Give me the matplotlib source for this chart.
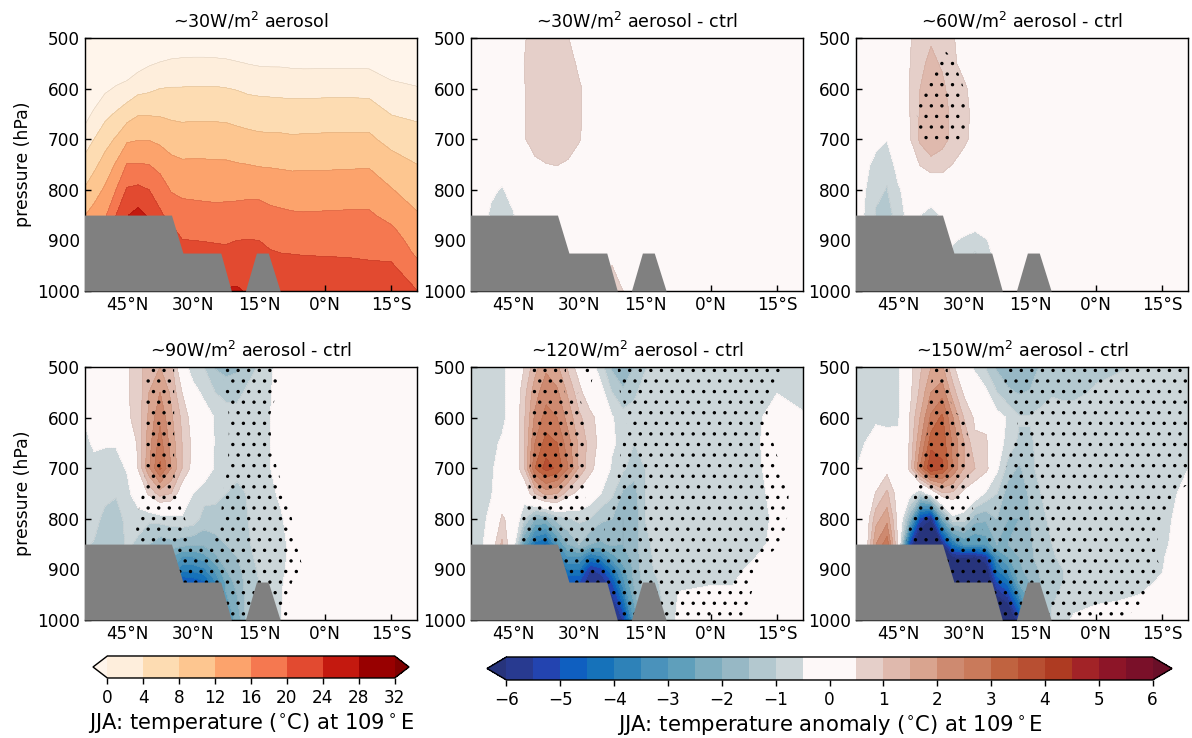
import numpy as np
import matplotlib
matplotlib.use('Agg')
from matplotlib import pyplot as plt

plt.rcParams['hatch.linewidth'] = 0.7
plt.rcParams['hatch.color'] = 'black'

DPI = 127
W, H = 1192.01, 738.01

# columns of the grid, one row in each table below per latitude
lats = [55, 52.5, 50, 47.5, 45, 42.5, 40, 37.5, 35, 32.5, 30, 27.5, 25, 22.5, 20, 17.5, 15,
        12.5, 10, 7.5, 5, 0, -5, -10, -15, -21]
plevs = [500, 550, 600, 650, 700, 750, 800, 850, 875, 900, 925, 1000]

terrain_lat = [55, 34.9, 32.3, 23.7, 21.3, 18.1, 15.6, 12.9, 10.2, -21]
terrain_p = [850, 850, 925, 925, 1000, 1000, 925, 925, 1000, 1000]

xtick_pos = [45, 30, 15, 0, -15]
xtick_lab = ['45°N', '30°N', '15°N', '0°N', '15°S']
ytick_pos = [500, 600, 700, 800, 900, 1000]

temp_levels = [0, 4, 8, 12, 16, 20, 24, 28, 32]
temp_colors = ['#fff5eb', '#feeedc', '#fddcb2', '#fdc690', '#fca36c', '#f57850', '#e24a30',
               '#c4190f', '#980000', '#7f0000']
anom_levels = [-6, -5.5, -5, -4.5, -4, -3.5, -3, -2.5, -2, -1.5, -1, -0.5,
               0.5, 1, 1.5, 2, 2.5, 3, 3.5, 4, 4.5, 5, 5.5, 6]
anom_colors = ['#27347c', '#283a90', '#2344b0', '#0f5fc0', '#1672ba', '#2e82b8', '#4a92bb',
               '#5f9fbb', '#7eadbf', '#97b8c5', '#b3c8cf', '#ccd6d9', '#fdf8f8', '#e5cfc9',
               '#dfb9ad', '#d9a48f', '#ce8a70', '#c97a5b', '#c06340', '#b84f32', '#ae3b22',
               '#a22327', '#8d1528', '#7a1029', '#6a0f28']

temp_30 = [
    [-12, -9, -6, -2, 1.5, 5, 8, 11.6, 13.6, 15.6, 18, 24],
    [-9, -6, -3, 0.7, 4, 7.1, 10.2, 13.5, 15.3, 17.3, 19.6, 26],
    [-7.3, -4.4, -0.7, 2.9, 6.5, 9.5, 12.6, 15.4, 17, 19, 21, 27],
    [-6.4, -3, 0.4, 4.4, 8.4, 12.4, 16, 20, 21.5, 23, 24.5, 29],
    [-5.7, -2.8, 1.3, 6.2, 11.3, 16.2, 20.4, 23.75, 25, 26, 27, 29],
    [-4.8, -1.5, 2.8, 7.7, 11.8, 16.2, 20.9, 25.3, 25.5, 26, 27, 29],
    [-4, -0.4, 3.3, 7.7, 11.8, 16, 20, 23.4, 25, 26, 27, 29],
    [-3.6, 0.2, 4, 7.6, 11.2, 14.5, 18.5, 20.5, 21.5, 24, 25, 27],
    [-3.4, 0.7, 4.2, 7.3, 10.1, 13.2, 15.7, 18.8, 20.4, 22, 23, 26],
    [-3.2, 0.9, 4.2, 7.1, 9.8, 12.6, 15.1, 17.7, 18.9, 20.1, 21, 24],
    [-3.1, 1, 4.3, 7.2, 9.9, 12.6, 15, 17.5, 18.8, 20, 21.3, 24],
    [-3.1, 1, 4.3, 7.2, 9.9, 12.6, 14.9, 17.3, 18.5, 19.9, 21, 24],
    [-3.2, 0.9, 4.3, 7.2, 9.8, 12.5, 14.8, 17.2, 18.4, 19.7, 21, 24],
    [-3.3, 0.7, 4.1, 7.1, 9.7, 12.5, 14.9, 17.2, 18.5, 19.6, 20.8, 24.3],
    [-3.6, 0.3, 3.8, 6.7, 9.4, 12.2, 14.9, 17.4, 18.6, 20, 21.2, 24.4],
    [-3.8, -0.1, 3.3, 6.3, 9.1, 12, 15, 17.6, 18.9, 20.1, 21.1, 23.6],
    [-4, -0.4, 3.1, 6.1, 8.8, 11.7, 15, 17.5, 18.8, 20, 21, 23.5],
    [-4, -0.5, 3, 6, 8.7, 11.6, 14.6, 16.9, 18, 19.2, 20.3, 23.4],
    [-4.1, -0.5, 2.9, 5.9, 8.7, 11.5, 14.1, 16.7, 17.8, 18.9, 20, 23.3],
    [-4.2, -0.7, 2.8, 5.8, 8.5, 11.3, 14, 16.4, 17.5, 18.6, 19.9, 23.2],
    [-4.2, -0.8, 2.8, 5.8, 8.6, 11.4, 13.9, 16.3, 17.4, 18.6, 19.8, 23.1],
    [-4.3, -0.8, 2.9, 5.9, 8.7, 11.4, 14, 16.4, 17.4, 18.5, 19.7, 23],
    [-4.1, -0.7, 2.9, 6, 8.7, 11.5, 14.1, 16.5, 17.5, 18.5, 19.6, 23],
    [-4.2, -0.8, 2.8, 5.9, 8.8, 11.6, 14.2, 16.5, 17.4, 18.3, 19.3, 23],
    [-5, -2, 1, 3.9, 6.5, 10, 12.2, 14.8, 16.4, 17.6, 18.8, 24],
    [-6.3, -3.2, 0.3, 3.2, 5.7, 8, 10.2, 12.3, 13.4, 14.4, 15.3, 20],
]

anom_30 = [
    [0] * 12,
    [0, 0, 0, 0, 0, 0, 0, -.2, 0, 0, 0, 0],
    [0, 0, 0, 0, 0, 0, -.4, -.6, -.2, 0, 0, 0],
    [0, 0, 0, 0, 0, -.2, -.55, -.8, -.3, 0, 0, 0],
    [0, 0, 0, 0, 0, 0, -.3, -.55, -.2, 0, 0, 0],
    [.4, .5, .45, .45, .42, .1, 0, -.2, 0, 0, 0, 0],
    [.9, .9, .9, .9, .9, .3, 0, 0, 0, 0, 0, 0],
    [1, 1, 1, 1, .9, .48, .1, 0, 0, 0, 0, 0],
    [.9, 1, 1, 1, .9, .52, .1, 0, 0, 0, 0, 0],
    [.52, .8, .9, .9, .9, .4, 0, 0, 0, 0, 0, 0],
    [.2, .35, .6, .6, .55, .2, 0, 0, 0, 0, 0, 0],
    [0, 0, .2, .2, .2, 0, 0, 0, 0, 0, 0, 0],
    [0] * 12,
    [0, 0, 0, 0, 0, 0, 0, 0, 0, 0, .3, .9],
    [0, 0, 0, 0, 0, 0, 0, 0, 0, 0, .1, .5],
    [0] * 12, [0] * 12, [0] * 12, [0] * 12, [0] * 12, [0] * 12,
    [0] * 12, [0] * 12, [0] * 12, [0] * 12, [0] * 12,
]

anom_60 = [
    [0, 0, 0, 0, 0, 0, -.05, -.1, 0, 0, 0, 0],
    [0, 0, 0, 0, 0, -.3, -.48, -.55, -.3, 0, 0, 0],
    [0, 0, 0, 0, -.25, -.75, -.9, -1.05, -.6, -.2, 0, 0],
    [0, 0, 0, 0, -.47, -.9, -1.02, -1.2, -.7, -.2, 0, 0],
    [0, 0, 0, 0, -.1, -.25, -.6, -.8, -.4, -.1, 0, 0],
    [.4, .45, .5, .45, .4, .05, -.2, -.3, 0, 0, 0, 0],
    [.85, .9, 1, 1.05, 1.1, .52, .1, -.5, -.2, -.1, 0, 0],
    [.95, 1.1, 1.3, 1.5, 1.3, .85, -.2, -.65, -.3, -.1, 0, 0],
    [.85, .95, 1.1, 1.3, 1.2, .7, .1, -.45, -.3, -.3, -.2, 0],
    [.55, .6, .8, .82, .85, .48, .05, -.1, -.2, -.45, -.6, -.2],
    [.2, .3, .6, .7, .62, .25, 0, -.1, -.3, -.6, -.7, -.2],
    [0, .1, .25, .3, .3, .05, 0, -.05, -.4, -.75, -1.05, -.3],
    [0, 0, 0, 0, 0, 0, 0, 0, -.2, -.55, -.7, -.2],
    [0, 0, 0, 0, 0, 0, 0, 0, -.1, -.2, -.3, 0],
    [0] * 12, [0] * 12, [0] * 12, [0] * 12, [0] * 12, [0] * 12, [0] * 12,
    [0] * 12, [0] * 12, [0] * 12, [0] * 12, [0] * 12,
]

sig_60 = [
    [0] * 12, [0] * 12, [0] * 12, [0] * 12, [0] * 12, [0] * 12,
    [0, 0, .5, .7, .6, 0, 0, 0, 0, 0, 0, 0],
    [0, .2, .7, 1, .6, 0, 0, 0, 0, 0, 0, 0],
    [.2, 1, 1, 1, .6, 0, 0, 0, 0, 0, 0, 0],
    [0, .6, .7, 1, .6, 0, 0, 0, 0, 0, 0, 0],
    [0, 0, .5, .6, .6, 0, 0, 0, 0, 0, 0, 0],
    [0] * 12, [0] * 12, [0] * 12, [0] * 12, [0] * 12, [0] * 12, [0] * 12, [0] * 12,
    [0] * 12, [0] * 12, [0] * 12, [0] * 12, [0] * 12, [0] * 12, [0] * 12,
]

anom_90 = [
    [-.3, -.4, -.5, -.7, -.75, -.8, -.9, -.9, -.9, -.9, -.9, -.9],
    [-.05, -.1, -.2, -.4, -.7, -.7, -.75, -1.05, -1.1, -1.1, -1.1, -1.1],
    [0, 0, -.1, -.45, -.7, -.8, -1.2, -1.3, -1.3, -1.3, -1.3, -1.3],
    [0, 0, -.1, -.45, -.7, -.95, -1.25, -1.4, -1.4, -1.4, -1.4, -1.4],
    [.45, .45, .4, -.2, -.45, -.7, -.85, -.9, -1, -1, -1, -1],
    [.7, .7, .7, .6, .52, -.1, -.8, -1.1, -1.3, -1.3, -1.3, -1.3],
    [1.4, 1.5, 1.6, 1.8, 1.9, .6, -.9, -1.5, -2, -2, -2, -2],
    [1.5, 2, 2.4, 2.7, 3.1, 1.2, -.8, -1.8, -2.2, -2.5, -2.5, -2.5],
    [1.2, 1.4, 1.6, 1.8, 2, 1, -.7, -1.7, -2.5, -3, -3, -3],
    [-.1, .5, .9, 1, 1, .1, -.6, -1.8, -3, -3.8, -5, -5],
    [-.9, -.2, .2, .35, .3, -.5, -.7, -1.9, -3, -3.8, -4.9, -5],
    [-1, -.7, -.05, 0, -.1, -.8, -1.2, -1.9, -2.7, -3.6, -4.6, -5],
    [-1.55, -1, -.55, -.55, -.55, -.85, -1.2, -1.7, -2.1, -2.9, -3.6, -5],
    [-1.7, -1.2, -.7, -.7, -.75, -1, -1.2, -1.5, -1.7, -2, -2.4, -2.8],
    [-1.6, -1.15, -.8, -.8, -.8, -1.2, -1.3, -1.4, -1.5, -1.7, -1.8, -2.4],
    [-1.2, -.9, -.75, -.75, -.75, -.95, -1, -1.05, -1.1, -1.2, -1.3, -1.2],
    [-.95, -.75, -.7, -.7, -.7, -.7, -.8, -.85, -.9, -.95, -1, -1],
    [-.6, -.55, -.52, -.5, -.52, -.6, -.7, -.75, -.75, -.75, -.7, -.6],
    [-.25, -.2, -.1, -.1, -.2, -.42, -.55, -.6, -.6, -.6, -.55, -.5],
    [0, 0, 0, 0, 0, -.1, -.3, -.4, -.4, -.35, -.3, -.1],
    [0] * 12, [0] * 12, [0] * 12, [0] * 12, [0] * 12, [0] * 12,
]

sig_90 = [
    [0] * 12, [0] * 12, [0] * 12, [0] * 12, [0] * 12,
    [0, 0, 0, 0, 0, .2, .6, .6, 0, 0, 0, 0],
    [.7, .7, .7, .7, .7, 1, 1, 1, .5, .5, .5, .5],
    [1] * 12,
    [.7, .7, .7, .7, .7, .8, 1, 1, 1, 1, 1, 1],
    [0, 0, 0, 0, 0, .1, .7, .7, 1, 1, 1, 1],
    [0, 0, 0, 0, 0, 0, 0, .5, 1, 1, 1, 1],
    [0, 0, 0, 0, 0, 0, 0, .4, 1, 1, 1, 1],
    [0, 0, 0, 0, 0, 0, 0, .8, 1, 1, 1, 1],
    [.7, .55, .3, .35, .4, .7, 1, 1, 1, 1, 1, .3],
    [1] * 12, [1] * 12, [1] * 12,
    [1, 1, .45, .6, 1, 1, 1, 1, 1, 1, 1, 1],
    [.3, .2, 0, 0, .2, .8, 1, 1, 1, 1, 1, 1],
    [0, 0, 0, 0, 0, 0, .5, .8, 1, .9, .5, 0],
    [0, 0, 0, 0, 0, 0, 0, 0, .3, .5, .4, 0],
    [0] * 12, [0] * 12, [0] * 12, [0] * 12, [0] * 12,
]

anom_120 = [
    [-1.1, -.8, -.7, -1.1, -1.1, -1.1, -.6, -.5, -.5, -.5, -.5, -.5],
    [-.7, -.7, -.7, -.7, -.7, -.7, -.7, -.75, -.75, -.75, -.75, -.75],
    [-.7, -.7, -.7, -.7, -.6, -.55, -.35, .1, .1, .1, .1, .1],
    [-.7, -.7, -.7, -.4, -.2, 0, .6, 1.1, 1.1, 1.1, 1.1, 1.1],
    [-.1, -.1, -.1, 0, 0, -.1, .2, -.1, -.5, -.5, -.5, -.5],
    [.5, .8, .9, .9, .9, -.1, -1, -2.6, -3, -3, -3, -3],
    [1.3, 1.8, 2.1, 2.5, 3, 1, -2, -4.2, -5, -5, -5, -5],
    [1.9, 2.3, 2.7, 3.2, 3.7, 1.7, -2, -4.6, -5, -5, -5, -5],
    [1.6, 2.1, 2.5, 3, 3.4, 1.5, -1.3, -3.1, -4, -4, -4, -4],
    [.9, 1.4, 1.8, 2.2, 2.5, .7, -1.05, -2, -3, -4, -5, -5],
    [.2, .7, 1.1, 1.4, 1.4, .3, -.9, -1.5, -3, -4, -5, -5],
    [-.2, 0, .7, .8, .7, -.1, -1, -2, -4, -5.5, -6, -6],
    [-.8, -.3, .2, .3, .1, -.5, -1.4, -2.1, -3.6, -5.2, -6, -6.2],
    [-1.6, -1, -.45, -.4, -.6, -.9, -1.5, -1.9, -2.7, -4, -5, -6.5],
    [-2, -1.4, -.8, -.7, -.9, -1.6, -2, -2, -2.2, -2.7, -3.2, -5.5],
    [-1.5, -1.1, -.8, -1, -1.3, -1.7, -1.9, -1.8, -1.85, -1.9, -1.9, -3],
    [-1.05, -.8, -.7, -.8, -1, -1, -1, -1.05, -1.1, -1.15, -1.3, -1.5],
    [-.8, -.7, -.7, -.7, -.75, -.85, -.9, -.95, -.95, -.95, -1.05, -1.2],
    [-.75, -.7, -.7, -.7, -.7, -.7, -.7, -.75, -.75, -.8, -.85, -.95],
    [-.7, -.7, -.7, -.7, -.7, -.7, -.7, -.7, -.65, -.6, -.55, -.35],
    [-.7, -.7, -.7, -.7, -.7, -.7, -.7, -.7, -.65, -.6, -.55, -.3],
    [-.75, -.75, -.7, -.7, -.7, -.7, -.7, -.7, -.65, -.6, -.52, -.3],
    [-.7, -.7, -.7, -.7, -.7, -.7, -.7, -.7, -.65, -.6, -.52, -.3],
    [-.7, -.7, -.6, -.6, -.65, -.7, -.7, -.6, -.52, -.4, -.3, -.2],
    [-.65, -.51, -.3, -.2, -.2, -.3, -.4, -.4, -.2, -.1, -.1, 0],
    [-.7, -.65, -.45, -.2, -.1, -.1, -.1, -.1, 0, 0, 0, 0],
]

sig_120 = [
    [0] * 12, [0] * 12, [0] * 12, [0] * 12, [0] * 12,
    [0, 0, 0, 0, 0, .2, .6, .7, 0, 0, 0, 0],
    [.7, .7, .7, .7, 1, 1, 1, 1, 1, 1, 1, 1],
    [1] * 12, [1] * 12,
    [.4, .3, 1, 1, 1, 1, 1, 1, 1, 1, 1, 1],
    [.5, .5, 1, 1, 1, 1, 1, 1, 1, 1, 1, 1],
    [1, .4, 0, 0, 0, 0, .5, 1, 1, 1, 1, 1],
    [0, 0, 0, 0, 0, 0, 0, .6, 1, 1, 1, 1],
    [0, 0, 0, 0, 0, 0, .8, 1, 1, 1, 1, 1],
    [1, .7, .1, .5, 1, 1, 1, 1, 1, 1, 1, 1],
    [1] * 12, [1] * 12, [1] * 12, [1] * 12, [1] * 12, [1] * 12, [1] * 12,
    [1, 1, 1, 1, 1, 1, 1, 1, 1, 1, 1, .9],
    [1, 1, 1, 1, 1, 1, 1, 1, 1, .45, .5, 0],
    [.8, .2, .1, .4, .6, .9, .8, .7, 0, 0, 0, 0],
    [0] * 12,
]

anom_150 = [
    [-.7, -.7, -.7, -.6, -.55, -.4, -.1, 0, 0, 0, 0, 0],
    [-.7, -.7, -.7, -.5, -.3, -.1, 0, 0, 0, 0, 0, 0],
    [-.7, -.7, -.6, -.25, -.2, .55, 1.3, 2, 2, 2, 2, 2],
    [-.7, -.7, -.6, -.35, .3, 1.1, 1.8, 2.8, 2.8, 2.8, 2.8, 2.8],
    [-.6, -.6, -.6, -.3, -.1, .2, .3, .4, .4, .4, .4, .4],
    [.3, .3, .45, .5, .55, -.2, -1.8, -5, -5, -5, -5, -5],
    [.9, 1.1, 1.5, 1.9, 2.5, -1, -5.2, -7.5, -7.5, -7.5, -7.5, -7.5],
    [1.5, 2, 2.6, 3.3, 4, -.2, -6, -7.5, -7.5, -7.5, -7.5, -7.5],
    [1.6, 2.3, 3.1, 3.3, 3.6, .9, -2.5, -6, -7, -7, -7, -7],
    [.6, 1.2, 2, 2.4, 2.4, .9, -.7, -4, -6, -7, -7.5, -7.5],
    [-.2, .4, .95, 1.5, 1.5, .3, -.8, -3, -5.9, -7, -7.5, -7.5],
    [-.6, -.1, .4, .6, 1, 0, -1.8, -3, -6, -7, -7.5, -7.5],
    [-1.05, -.4, .3, .6, .7, -.6, -1.9, -2.8, -5.5, -6.5, -7, -8],
    [-1.6, -1, -.3, -.2, -.4, -1, -1.5, -2, -3.2, -4, -5, -8],
    [-1.9, -1.4, -.55, -.7, -1.2, -1.8, -2, -2, -2.5, -3.2, -4.2, -7.5],
    [-2, -1.55, -.95, -1.1, -1.6, -1.9, -2, -1.9, -2, -2.1, -2.4, -5.5],
    [-1.9, -1.45, -.95, -1.1, -1.15, -1.4, -1.5, -1.6, -1.6, -1.8, -2, -3],
    [-1.4, -1.15, -.9, -.8, -.8, -1, -1.1, -1.2, -1.3, -1.4, -1.5, -1.8],
    [-1.3, -1.05, -.8, -.7, -.7, -.8, -.9, -1, -1.05, -1.1, -1.2, -.9],
    [-1.3, -1.1, -.8, -.7, -.7, -.75, -.8, -.85, -.9, -1, -1, -.6],
    [-1.25, -1.1, -.8, -.7, -.7, -.7, -.7, -.75, -.75, -.8, -.75, -.45],
    [-1.1, -.95, -.8, -.7, -.7, -.7, -.7, -.7, -.7, -.7, -.65, -.4],
    [-1.05, -.85, -.75, -.7, -.7, -.7, -.7, -.7, -.7, -.65, -.65, -.35],
    [-.95, -.8, -.7, -.7, -.7, -.7, -.7, -.7, -.7, -.65, -.6, -.3],
    [-.8, -.7, -.7, -.7, -.7, -.7, -.65, -.6, -.55, -.52, -.45, -.1],
    [-.7, -.7, -.7, -.65, -.5, -.35, -.25, -.2, -.1, 0, 0, 0],
]

sig_150 = [
    [0] * 12, [0] * 12, [0] * 12, [0] * 12, [0] * 12,
    [0, 0, 0, 0, 0, 0, .4, .7, 0, 0, 0, 0],
    [0, 0, 0, 0, .8, 1, 1, 1, 1, 1, 1, 1],
    [.2, .7, .6, 1, 1, 1, 1, 1, 1, 1, 1, 1],
    [1] * 12,
    [0, .2, .6, 1, 1, 1, 1, 1, 1, 1, 1, 1],
    [0, 0, .5, 1, 1, .7, 1, 1, 1, 1, 1, 1],
    [0, 0, 0, 0, 0, 0, .6, 1, 1, 1, 1, 1],
    [0, 0, 0, 0, 0, 0, .2, .6, 1, 1, 1, 1],
    [0, 0, 0, 0, 0, .3, 1, 1, 1, 1, 1, 1],
    [.8, .7, .2, .2, .6, 1, 1, 1, 1, 1, 1, 1],
    [1, 1, .5, 1, 1, 1, 1, 1, 1, 1, 1, 1],
    [1] * 12, [1] * 12, [1] * 12, [1] * 12, [1] * 12,
    [1, 1, 1, 1, 1, 1, 1, 1, 1, 1, 1, .6],
    [1, 1, 1, 1, 1, 1, 1, 1, 1, 1, 1, .55],
    [1, 1, 1, 1, 1, 1, 1, 1, 1, 1, 1, .2],
    [1, 1, 1, 1, 1, .8, .6, .3, .3, .5, .3, .2],
    [1, 1, 1, 1, 1, .2, 0, 0, 0, 0, 0, 0],
]

titles = ['~30W/m$^2$ aerosol', '~30W/m$^2$ aerosol - ctrl', '~60W/m$^2$ aerosol - ctrl',
          '~90W/m$^2$ aerosol - ctrl', '~120W/m$^2$ aerosol - ctrl', '~150W/m$^2$ aerosol - ctrl']
fields = [temp_30, anom_30, anom_60, anom_90, anom_120, anom_150]
sigs = [None, None, sig_60, sig_90, sig_120, sig_150]

# axes corners in pixels of the reference: left, top
ax_x = [85, 471, 856]
ax_y = [38, 367]
ax_w, ax_h = 332, 253


def px_axes(x0, y0, w, h):
    return fig.add_axes([x0 / W, 1 - (y0 + h) / H, w / W, h / H])


fig = plt.figure(figsize=(W / DPI, H / DPI), dpi=DPI)

for i in range(6):
    ax = px_axes(ax_x[i % 3], ax_y[i // 3], ax_w, ax_h)
    z = np.array(fields[i]).T
    if i == 0:
        cs_temp = ax.contourf(lats, plevs, z, levels=temp_levels, colors=temp_colors, extend='both')
        ax.contour(lats, plevs, z, levels=temp_levels, colors='k', linewidths=0.2, alpha=0.2)
    else:
        cs_anom = ax.contourf(lats, plevs, z, levels=anom_levels, colors=anom_colors, extend='both')
        ax.contour(lats, plevs, z, levels=anom_levels, colors='k', linewidths=0.2, alpha=0.1)
    if sigs[i] is not None:
        ax.contourf(lats, plevs, np.array(sigs[i]).T, levels=[0.5, 2], colors='none', hatches=['..'])
    ax.fill_between(terrain_lat, terrain_p, 1000, color='gray', linewidth=0, zorder=5)
    ax.set_xlim(54.55, -20.9)
    ax.set_ylim(1000, 500)
    ax.set_xticks(xtick_pos)
    ax.set_xticklabels(xtick_lab)
    ax.set_yticks(ytick_pos)
    ax.tick_params(direction='in', length=3.5, width=0.8, labelsize=9.6, pad=3, zorder=6)
    ax.set_title(titles[i], fontsize=9.9, pad=6)
    if i % 3 == 0:
        ax.set_ylabel('pressure (hPa)', fontsize=9.8, labelpad=2.5)

cax1 = px_axes(93, 656, 316, 22)
cb1 = fig.colorbar(cs_temp, cax=cax1, orientation='horizontal', ticks=temp_levels, extendfrac=0.05)
cb1.ax.tick_params(labelsize=9.6, length=3.5, width=0.8, pad=3)
cb1.set_label('JJA: temperature ($^{\\circ}$C) at 109$^\\circ$E', fontsize=11.9, labelpad=2)

cax2 = px_axes(487, 657, 685, 23)
cb2 = fig.colorbar(cs_anom, cax=cax2, orientation='horizontal', spacing='proportional',
                   ticks=[-6, -5, -4, -3, -2, -1, 0, 1, 2, 3, 4, 5, 6], extendfrac=0.03)
cb2.ax.tick_params(labelsize=9.6, length=3.5, width=0.8, pad=3)
cb2.set_label('JJA: temperature anomaly ($^{\\circ}$C) at 109$^\\circ$E', fontsize=12, labelpad=2)

fig.savefig('out.png', dpi=DPI)
